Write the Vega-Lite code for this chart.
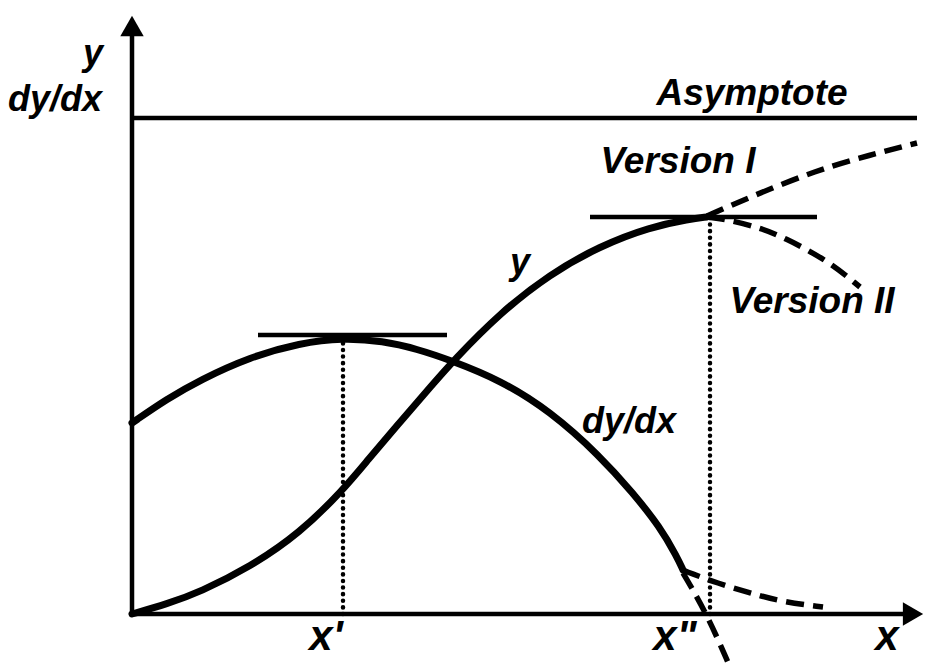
{
  "$schema": "https://vega.github.io/schema/vega-lite/v6.json",
  "width": 926,
  "height": 667,
  "padding": 0,
  "autosize": "none",
  "background": "white",
  "config": {"view": {"stroke": null}},
  "datasets": {
    "curves": [
      {"s": "y", "i": 0, "x": 0, "y": 0},
      {"s": "y", "i": 1, "x": 35, "y": 10},
      {"s": "y", "i": 2, "x": 68, "y": 22},
      {"s": "y", "i": 3, "x": 118, "y": 47},
      {"s": "y", "i": 4, "x": 168, "y": 81},
      {"s": "y", "i": 5, "x": 211, "y": 124},
      {"s": "y", "i": 6, "x": 235, "y": 153},
      {"s": "y", "i": 7, "x": 268, "y": 192},
      {"s": "y", "i": 8, "x": 301, "y": 230},
      {"s": "y", "i": 9, "x": 321, "y": 253},
      {"s": "y", "i": 10, "x": 368, "y": 301},
      {"s": "y", "i": 11, "x": 418, "y": 340},
      {"s": "y", "i": 12, "x": 468, "y": 368},
      {"s": "y", "i": 13, "x": 518, "y": 387},
      {"s": "y", "i": 14, "x": 558, "y": 395},
      {"s": "y", "i": 15, "x": 575, "y": 397},
      {"s": "dydx", "i": 0, "x": 0, "y": 191},
      {"s": "dydx", "i": 1, "x": 35, "y": 215},
      {"s": "dydx", "i": 2, "x": 68, "y": 234},
      {"s": "dydx", "i": 3, "x": 118, "y": 257},
      {"s": "dydx", "i": 4, "x": 168, "y": 271},
      {"s": "dydx", "i": 5, "x": 211, "y": 276},
      {"s": "dydx", "i": 6, "x": 251, "y": 273},
      {"s": "dydx", "i": 7, "x": 285, "y": 265},
      {"s": "dydx", "i": 8, "x": 318, "y": 254},
      {"s": "dydx", "i": 9, "x": 368, "y": 234},
      {"s": "dydx", "i": 10, "x": 418, "y": 203},
      {"s": "dydx", "i": 11, "x": 468, "y": 158},
      {"s": "dydx", "i": 12, "x": 501, "y": 121},
      {"s": "dydx", "i": 13, "x": 528, "y": 87},
      {"s": "dydx", "i": 14, "x": 545, "y": 57},
      {"s": "dydx", "i": 15, "x": 551, "y": 44},
      {"s": "yI", "i": 0, "x": 575, "y": 398},
      {"s": "yI", "i": 1, "x": 618, "y": 417},
      {"s": "yI", "i": 2, "x": 685, "y": 444},
      {"s": "yI", "i": 3, "x": 738, "y": 459},
      {"s": "yI", "i": 4, "x": 785, "y": 471},
      {"s": "yII", "i": 0, "x": 575, "y": 397},
      {"s": "yII", "i": 1, "x": 598, "y": 394},
      {"s": "yII", "i": 2, "x": 628, "y": 386},
      {"s": "yII", "i": 3, "x": 651, "y": 377},
      {"s": "yII", "i": 4, "x": 695, "y": 354},
      {"s": "yII", "i": 5, "x": 728, "y": 327},
      {"s": "dI", "i": 0, "x": 551, "y": 44},
      {"s": "dI", "i": 1, "x": 558, "y": 41},
      {"s": "dI", "i": 2, "x": 585, "y": 31},
      {"s": "dI", "i": 3, "x": 618, "y": 21},
      {"s": "dI", "i": 4, "x": 651, "y": 12},
      {"s": "dI", "i": 5, "x": 691, "y": 7},
      {"s": "dII", "i": 0, "x": 551, "y": 41},
      {"s": "dII", "i": 1, "x": 575, "y": 0},
      {"s": "dII", "i": 2, "x": 598, "y": -53}
    ],
    "straight": [
      {"s": "yaxis", "i": 0, "x": 0, "y": 0},
      {"s": "yaxis", "i": 1, "x": 0, "y": 585},
      {"s": "xaxis", "i": 0, "x": 0, "y": 0},
      {"s": "xaxis", "i": 1, "x": 780, "y": 0},
      {"s": "asym", "i": 0, "x": 0, "y": 496},
      {"s": "asym", "i": 1, "x": 785, "y": 496},
      {"s": "tan1", "i": 0, "x": 126, "y": 279},
      {"s": "tan1", "i": 1, "x": 315, "y": 279},
      {"s": "tan2", "i": 0, "x": 458, "y": 397},
      {"s": "tan2", "i": 1, "x": 685, "y": 397}
    ],
    "dotted": [
      {"s": "d1", "i": 0, "x": 211, "y": 0},
      {"s": "d1", "i": 1, "x": 211, "y": 276},
      {"s": "d2", "i": 0, "x": 578, "y": 0},
      {"s": "d2", "i": 1, "x": 578, "y": 397}
    ],
    "arrows": [
      {"dir": "up", "x": 0, "y": 588},
      {"dir": "right", "x": 781, "y": 0}
    ],
    "labels": [
      {"t": "Asymptote", "x": 620, "y": 509},
      {"t": "Version I", "x": 546, "y": 441},
      {"t": "Version II", "x": 680, "y": 301},
      {"t": "y", "x": 388, "y": 340},
      {"t": "dy/dx", "x": 497, "y": 181},
      {"t": "y", "x": -39, "y": 549},
      {"t": "dy/dx", "x": -77, "y": 503},
      {"t": "x'", "x": 194, "y": -36},
      {"t": "x\"", "x": 543, "y": -36},
      {"t": "x", "x": 755, "y": -36}
    ]
  },
  "encoding": {
    "x": {"field": "x", "type": "quantitative", "scale": {"domain": [-132, 794], "nice": false, "zero": false}, "axis": null},
    "y": {"field": "y", "type": "quantitative", "scale": {"domain": [-53, 614], "nice": false, "zero": false}, "axis": null}
  },
  "layer": [
    {
      "data": {"name": "straight"},
      "mark": {"type": "line", "color": "black", "strokeWidth": 4.5, "strokeCap": "butt"},
      "encoding": {"detail": {"field": "s"}, "order": {"field": "i"}}
    },
    {
      "data": {"name": "curves"},
      "transform": [{"filter": {"field": "s", "oneOf": ["y", "dydx"]}}],
      "mark": {"type": "line", "color": "black", "strokeWidth": 7, "interpolate": "basis", "strokeCap": "round"},
      "encoding": {"detail": {"field": "s"}, "order": {"field": "i"}}
    },
    {
      "data": {"name": "curves"},
      "transform": [{"filter": {"field": "s", "oneOf": ["yI", "yII", "dI", "dII"]}}],
      "mark": {"type": "line", "color": "black", "strokeWidth": 5.5, "interpolate": "basis", "strokeDash": [18, 9]},
      "encoding": {"detail": {"field": "s"}, "order": {"field": "i"}}
    },
    {
      "data": {"name": "dotted"},
      "mark": {"type": "line", "color": "black", "strokeWidth": 4.5, "strokeCap": "round", "strokeDash": [0.1, 6.5]},
      "encoding": {"detail": {"field": "s"}, "order": {"field": "i"}}
    },
    {
      "data": {"name": "arrows"},
      "transform": [{"filter": "datum.dir === 'up'"}],
      "mark": {"type": "point", "shape": "triangle-up", "filled": true, "color": "black", "size": 550, "opacity": 1}
    },
    {
      "data": {"name": "arrows"},
      "transform": [{"filter": "datum.dir === 'right'"}],
      "mark": {"type": "point", "shape": "triangle-right", "filled": true, "color": "black", "size": 550, "opacity": 1}
    },
    {
      "data": {"name": "labels"},
      "transform": [{"filter": {"field": "t", "oneOf": ["Asymptote", "Version I", "Version II"]}}],
      "mark": {"type": "text", "font": "Liberation Sans", "fontStyle": "italic", "fontWeight": "bold", "fontSize": 37, "align": "center", "baseline": "alphabetic", "color": "black"},
      "encoding": {"text": {"field": "t"}}
    },
    {
      "data": {"name": "labels"},
      "transform": [{"filter": {"field": "t", "oneOf": ["y", "dy/dx"]}}],
      "mark": {"type": "text", "font": "Liberation Sans", "fontStyle": "italic", "fontWeight": "bold", "fontSize": 36, "align": "center", "baseline": "alphabetic", "color": "black"},
      "encoding": {"text": {"field": "t"}}
    },
    {
      "data": {"name": "labels"},
      "transform": [{"filter": {"field": "t", "oneOf": ["x'", "x\"", "x"]}}],
      "mark": {"type": "text", "font": "Liberation Sans", "fontStyle": "italic", "fontWeight": "bold", "fontSize": 42, "align": "center", "baseline": "alphabetic", "color": "black"},
      "encoding": {"text": {"field": "t"}}
    }
  ]
}
